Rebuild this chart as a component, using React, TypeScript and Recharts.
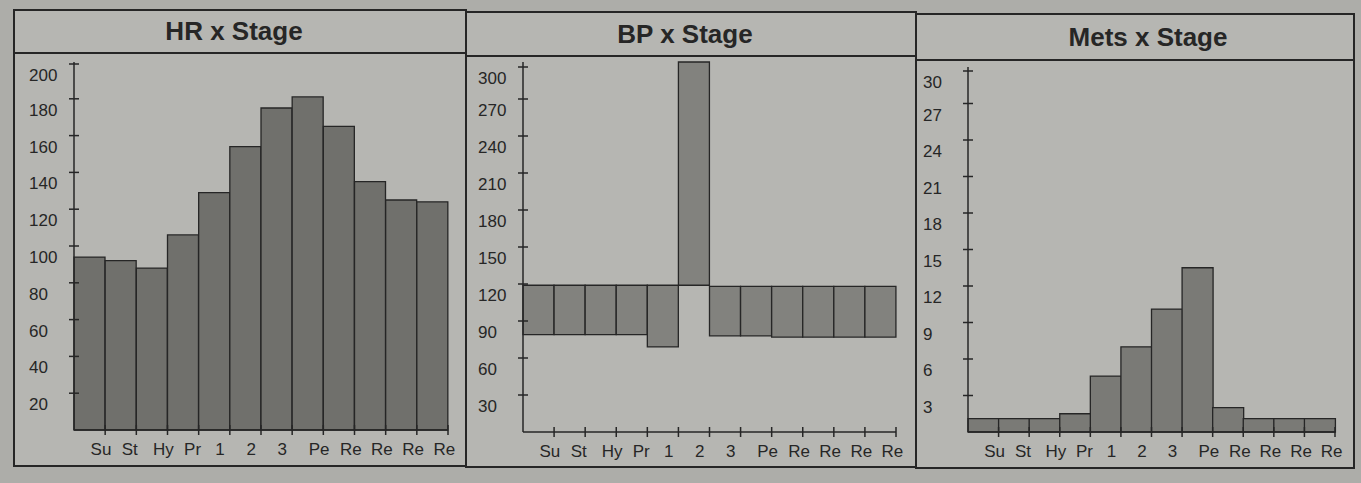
import { BarChart, Bar, XAxis, YAxis } from "recharts";

const stages = ["Su", "St", "Hy", "Pr", "1", "2", "3", "Pe", "Re", "Re", "Re", "Re"];

const hrValues = [94, 92, 88, 106, 129, 154, 175, 181, 165, 135, 125, 124];
const hrTicks = [20, 40, 60, 80, 100, 120, 140, 160, 180, 200];

const bpLow = [79, 79, 79, 79, 69, 119, 78, 78, 77, 77, 77, 77];
const bpHigh = [119, 119, 119, 119, 119, 300, 118, 118, 118, 118, 118, 118];
const bpTicks = [30, 60, 90, 120, 150, 180, 210, 240, 270, 300];

const metsValues = [1.1, 1.1, 1.1, 1.5, 4.6, 7.0, 10.1, 13.5, 2.0, 1.1, 1.1, 1.1];
const metsTicks = [3, 6, 9, 12, 15, 18, 21, 24, 27, 30];

const hrData = stages.map((s, i) => ({ stage: s, hr: hrValues[i] }));
const bpData = stages.map((s, i) => ({ stage: s, bp: [bpLow[i], bpHigh[i]] }));
const metsData = stages.map((s, i) => ({ stage: s, mets: metsValues[i] }));

const FONT = "'Liberation Sans', Arial, sans-serif";
const INK = "#262626";

function YTick(props: any) {
  const { x, y, payload } = props;
  return (
    <g>
      <line x1={x - 5} x2={x + 5} y1={y} y2={y} stroke={INK} strokeWidth={1.5} />
      <text x={x - 45} y={y + 17} textAnchor="start" fontSize={17} fill={INK} fontFamily={FONT}>
        {payload.value}
      </text>
    </g>
  );
}

function makeXTick(bandWidth: number) {
  return function XTick(props: any) {
    const { x, y, payload } = props;
    const edge = x + bandWidth / 2;
    return (
      <g>
        <line x1={edge} x2={edge} y1={y - 5} y2={y + 5} stroke={INK} strokeWidth={1.5} />
        <text x={x + 1} y={y + 25} textAnchor="start" fontSize={17} fill={INK} fontFamily={FONT}>
          {payload.value}
        </text>
      </g>
    );
  };
}

type PanelProps = {
  title: string;
  box: { left: number; top: number; right: number; bottom: number; sep: number };
  titleX: number;
  chart: { left: number; top: number; width: number; height: number };
  margin: { top: number; right: number; bottom: number };
  yWidth: number;
  plotWidth: number;
  children: any;
};

function Panel({ title, box, titleX, chart, margin, yWidth, plotWidth, children }: PanelProps) {
  return (
    <>
      <div
        style={{
          position: "absolute",
          left: box.left,
          top: box.top,
          width: box.right - box.left,
          height: box.bottom - box.top,
          border: `2px solid ${INK}`,
          boxSizing: "border-box",
          background: "#b6b6b2",
        }}
      />
      <div
        style={{
          position: "absolute",
          left: box.left,
          top: box.sep,
          width: box.right - box.left,
          height: 2,
          background: INK,
        }}
      />
      <div
        style={{
          position: "absolute",
          left: titleX - 150,
          width: 300,
          top: box.top + 2,
          height: box.sep - box.top - 2,
          lineHeight: `${box.sep - box.top - 2}px`,
          textAlign: "center",
          fontFamily: FONT,
          fontWeight: "bold",
          fontSize: 26,
          color: INK,
        }}
      >
        {title}
      </div>
      <div style={{ position: "absolute", left: chart.left, top: chart.top }}>
        {children(makeXTick(plotWidth / 12), margin, yWidth, chart)}
      </div>
    </>
  );
}

export default function App() {
  return (
    <div
      style={{
        position: "absolute",
        left: 0,
        top: 0,
        width: 1361,
        height: 483,
        background: "#adada9",
        overflow: "hidden",
      }}
    >
      <Panel
        title="HR x Stage"
        box={{ left: 13, top: 9, right: 467, bottom: 467, sep: 52 }}
        titleX={234}
        chart={{ left: 15, top: 55, width: 449, height: 409 }}
        margin={{ top: 7, right: 16, bottom: 4 }}
        yWidth={59}
        plotWidth={374}
      >
        {(tick: any, m: any, yw: number, c: any) => (
          <BarChart width={c.width} height={c.height} data={hrData} margin={{ top: m.top, right: m.right, bottom: m.bottom, left: 0 }} barCategoryGap={0}>
            <XAxis dataKey="stage" height={30} tickSize={0} tickMargin={0} interval={0} tick={tick} stroke={INK} strokeWidth={1.5} />
            <YAxis width={yw} domain={[0, 200]} ticks={hrTicks} tickSize={0} tickMargin={0} tick={YTick} stroke={INK} strokeWidth={1.5} />
            <Bar dataKey="hr" fill="#70706c" stroke={INK} strokeWidth={1.3} isAnimationActive={false} />
          </BarChart>
        )}
      </Panel>
      <Panel
        title="BP x Stage"
        box={{ left: 465, top: 11, right: 917, bottom: 468, sep: 55 }}
        titleX={685}
        chart={{ left: 468, top: 58, width: 445, height: 407 }}
        margin={{ top: 4, right: 17, bottom: 3 }}
        yWidth={55}
        plotWidth={373}
      >
        {(tick: any, m: any, yw: number, c: any) => (
          <BarChart width={c.width} height={c.height} data={bpData} margin={{ top: m.top, right: m.right, bottom: m.bottom, left: 0 }} barCategoryGap={0}>
            <XAxis dataKey="stage" height={30} tickSize={0} tickMargin={0} interval={0} tick={tick} stroke={INK} strokeWidth={1.5} />
            <YAxis width={yw} domain={[0, 300]} ticks={bpTicks} tickSize={0} tickMargin={0} tick={YTick} stroke={INK} strokeWidth={1.5} />
            <Bar dataKey="bp" fill="#82827e" stroke={INK} strokeWidth={1.3} isAnimationActive={false} />
          </BarChart>
        )}
      </Panel>
      <Panel
        title="Mets x Stage"
        box={{ left: 915, top: 13, right: 1355, bottom: 469, sep: 59 }}
        titleX={1148}
        chart={{ left: 917, top: 62, width: 436, height: 404 }}
        margin={{ top: 5, right: 18, bottom: 4 }}
        yWidth={51}
        plotWidth={367}
      >
        {(tick: any, m: any, yw: number, c: any) => (
          <BarChart width={c.width} height={c.height} data={metsData} margin={{ top: m.top, right: m.right, bottom: m.bottom, left: 0 }} barCategoryGap={0}>
            <XAxis dataKey="stage" height={30} tickSize={0} tickMargin={0} interval={0} tick={tick} stroke={INK} strokeWidth={1.5} />
            <YAxis width={yw} domain={[0, 30]} ticks={metsTicks} tickSize={0} tickMargin={0} tick={YTick} stroke={INK} strokeWidth={1.5} />
            <Bar dataKey="mets" fill="#7a7a76" stroke={INK} strokeWidth={1.3} isAnimationActive={false} />
          </BarChart>
        )}
      </Panel>
    </div>
  );
}
